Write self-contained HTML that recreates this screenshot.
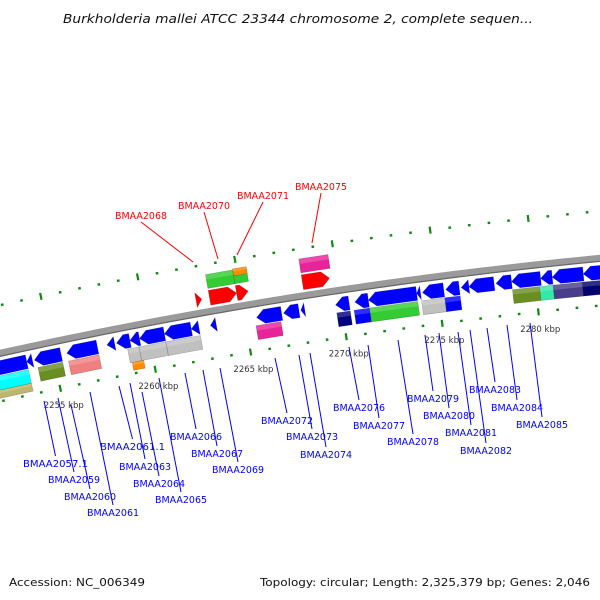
<!DOCTYPE html>
<html><head><meta charset="utf-8"><style>
html,body{margin:0;padding:0;background:#fff}
svg{display:block}
text{font-family:"DejaVu Sans","Liberation Sans",sans-serif}
</style></head><body>
<svg id="chart" width="600" height="600" viewBox="0 0 600 600" xmlns="http://www.w3.org/2000/svg">
<text x="63" y="23" font-size="12" font-style="italic" fill="#111" textLength="470" lengthAdjust="spacingAndGlyphs">Burkholderia mallei ATCC 23344 chromosome 2, complete sequen...</text>
<g id="dots"></g><g id="backbone"></g><g id="genes"></g><g id="ticklabels"></g><g id="labels"></g>
<text x="9" y="586" font-size="11" fill="#111" textLength="136" lengthAdjust="spacingAndGlyphs">Accession: NC_006349</text>
<text x="260" y="586" font-size="11" fill="#111" textLength="330" lengthAdjust="spacingAndGlyphs">Topology: circular; Length: 2,325,379 bp; Genes: 2,046</text>
</svg>
<script>
// ---- data (kbp) ----
const blueStarts=[2251.5,2253.6,2254.0,2255.7,2257.8,2258.3,2259.0,2259.5,2260.8,2262.2,2263.2,2265.6,2267.0,2267.9,2269.7,2270.7,2271.4,2273.9,2274.2,2275.4,2276.2,2276.6,2278.0,2278.8,2280.3,2280.9,2282.5];
const blueEnds  =[2253.6,2253.9,2255.4,2257.3,2258.2,2259.0,2259.5,2260.8,2262.2,2262.6,2263.5,2266.9,2267.8,2268.1,2270.4,2271.4,2273.9,2274.1,2275.3,2276.1,2276.6,2277.9,2278.8,2280.3,2280.9,2282.5,2284.5];
const lowStarts=[2251.5,2254.1,2255.7,2258.8,2259.4,2260.8,2265.5,2269.7,2270.6,2271.4,2274.1,2275.3,2278.8,2280.2,2280.9,2282.4];
const lowEnds  =[2253.6,2255.4,2257.3,2259.4,2260.8,2262.6,2266.8,2270.4,2271.4,2273.9,2275.3,2276.1,2280.2,2280.9,2282.4,2284.5];
const lowColors=["#00ffff","#6b8e23","#f08080","#c0c0c0","#c0c0c0","#c0c0c0","#e8249a","#000080","#0000ff","#33cc33","#c0c0c0","#0000ff","#6b8e23","#33e8a8","#483d8b","#000070"];
const thirdStarts=[2251.5,2258.9];
const thirdEnds=[2253.6,2259.5];
const thirdColors=["#bdb76b","#ff8c00"];
const redStarts=[2262.7,2263.4,2264.8,2268.2];
const redEnds=[2263.0,2264.8,2265.4,2269.6];
const greenStarts=[2263.4,2264.8,2268.2];
const greenEnds=[2264.8,2265.5,2269.7];
const greenColors=["#33cc33","#33cc33","#e8249a"];
const tickKbp=[2255,2260,2265,2270,2275,2280];
const tickText=["2255 kbp","2260 kbp","2265 kbp","2270 kbp","2275 kbp","2280 kbp"];
// labels: name, label x, baseline y, line start x, line start y
const blueLabels=[["BMAA2057.1",23,467,44,401],["BMAA2059",48,483,58,398],["BMAA2060",64,500,71,405],["BMAA2061",87,516,90,392],["BMAA2061.1",100,450,119,386],["BMAA2063",119,470,130,383],["BMAA2064",133,487,142,392],["BMAA2065",155,503,159,378],["BMAA2066",170,440,185,373],["BMAA2067",191,457,203,370],["BMAA2069",212,473,220,368],["BMAA2072",261,424,275,358],["BMAA2073",286,440,299,355],["BMAA2074",300,458,310,353],["BMAA2076",333,411,349,347],["BMAA2077",353,429,368,345],["BMAA2078",387,445,398,340],["BMAA2079",407,402,425,335],["BMAA2080",423,419,439,333],["BMAA2081",445,436,458,332],["BMAA2082",460,454,470,330],["BMAA2083",469,393,487,328],["BMAA2084",491,411,507,325],["BMAA2085",516,428,530,323]];
const redLabels=[["BMAA2068",115,219,193,262],["BMAA2070",178,209,218,259],["BMAA2071",237,199,237,255],["BMAA2075",295,190,312,243]];

const NS="http://www.w3.org/2000/svg";
const CX=1068,CY=5156,R=4920,A0=-0.2083,DA=0.003976;
function pt(k,r){const a=A0+(k-2255)*DA;return [CX+r*Math.sin(a),CY-r*Math.cos(a)];}
function mk(tag,attrs,parent){const e=document.createElementNS(NS,tag);for(const k in attrs)e.setAttribute(k,attrs[k]);parent.appendChild(e);return e;}
function P(p){return p[0].toFixed(2)+","+p[1].toFixed(2);}
const gDots=document.getElementById('dots'),gBack=document.getElementById('backbone'),gGenes=document.getElementById('genes'),gTL=document.getElementById('ticklabels'),gL=document.getElementById('labels');

// backbone
let d="";for(let k=2250;k<=2286;k+=0.5){const p=pt(k,R);d+=(d?"L":"M")+P(p);}
const bb=mk('path',{d:d,fill:'none',stroke:'#9a9a9a','stroke-width':7},gBack);


let d2="";for(let k=2250;k<=2286;k+=0.5){const p=pt(k,R-3);d2+=(d2?"L":"M")+P(p);}
mk('path',{d:d2,fill:'none',stroke:'#666','stroke-width':1.2},gBack);

// dots and ticks
for(let k=2251;k<=2285;k++){
  const major=(k%5===0);
  [R+47,R-47].forEach(function(r){
    const h=major?3.5:1.2;
    const a=pt(k,r-h),b=pt(k,r+h);
    const ln=mk('line',{x1:a[0],y1:a[1],x2:b[0],y2:b[1],stroke:'#0e8a0e','stroke-width':major?2.2:2.6},gDots);
    
    
  });
}
tickKbp.forEach(function(k,i){
  const p=pt(k,R-64);
  const t=mk('text',{x:p[0],y:p[1]+3,'font-size':8.5,'text-anchor':'middle',fill:'#333'},gTL);
  t.textContent=tickText[i];
  
  
});

function gene(s,e,r1,r2,dir,color,name){
  const len=e-s;const head=Math.min(0.4,len);const rm=(r1+r2)/2;let pts;
  if(dir>0){pts=[pt(s,r1),pt(e-head,r1),pt(e,rm),pt(e-head,r2),pt(s,r2)];}
  else if(dir<0){pts=[pt(e,r1),pt(s+head,r1),pt(s,rm),pt(s+head,r2),pt(e,r2)];}
  else{pts=[pt(s,r1),pt(e,r1),pt(e,r2),pt(s,r2)];}
  const pg=mk('polygon',{points:pts.map(P).join(' '),fill:color,stroke:'rgba(0,0,0,0.25)','stroke-width':0.6},gGenes);
  
  
  // highlight upper half
  const hp=dir===0?[pt(s,r2),pt(e,r2),pt(e,r2-(r2-r1)*0.35),pt(s,r2-(r2-r1)*0.35)]:null;
  if(hp){mk('polygon',{points:hp.map(P).join(' '),fill:'rgba(255,255,255,0.18)'},gGenes);}
}
blueStarts.forEach(function(s,i){gene(s,blueEnds[i],R-21,R-7,-1,'#0000ff','reverse-cds');});
lowStarts.forEach(function(s,i){gene(s,lowEnds[i],R-36,R-22,0,lowColors[i],'reverse-feature');});
thirdStarts.forEach(function(s,i){gene(s,thirdEnds[i],R-44,R-36,0,thirdColors[i],'reverse-feature-lane3');});
redStarts.forEach(function(s,i){gene(s,redEnds[i],R+6,R+21,1,'#ff0000','forward-cds');});
greenStarts.forEach(function(s,i){gene(s,greenEnds[i],R+23,R+37,0,greenColors[i],'forward-feature');});
// orange cap on upper half of last green feature
gene(2264.8,2265.5,R+31,R+38,0,'#ff8c00','forward-feature-orange');

function lbl(arr,color){
  arr.forEach(function(L){
    const w=52*(L[0].length/8);
    const mx=L[1]+w/2;
    const ln=mk('line',{x1:L[3],y1:L[4],x2:color==='#0000ff'?mx:L[1]+w/2,y2:color==='#0000ff'?L[2]-11:L[2]+3,stroke:color,'stroke-width':1},gL);
    
    
    const t=mk('text',{x:L[1],y:L[2],'font-size':10,fill:color,textLength:w,lengthAdjust:'spacingAndGlyphs'},gL);
    t.textContent=L[0];
    
    
  });
}
lbl(blueLabels,'#0000ff');
lbl(redLabels,'#ff0000');
</script>
</body></html>
